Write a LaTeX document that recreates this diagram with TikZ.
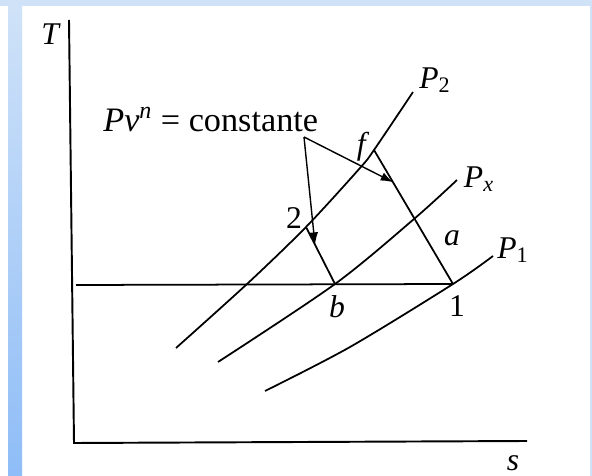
\documentclass[tikz,border=0pt]{standalone}
\usepackage{fontspec}
\setmainfont{Liberation Serif}
\usetikzlibrary{arrows.meta,calc}
\definecolor{bandblue}{HTML}{CFE2F8}
\definecolor{stripblue}{HTML}{8FBDF7}
\begin{document}
\begin{tikzpicture}[x=0.02cm, y=-0.02cm,
    axisline/.style={black, line width=1.1pt},
    isoline/.style={black, line width=1pt, smooth},
    procline/.style={black, line width=1pt},
    pointer/.style={black, line width=0.8pt, -{Latex[length=7pt, width=5pt]}},
    lbl/.style={font=\fontsize{18}{20}\selectfont, inner sep=0pt}
]
    % Frame: light blue band and left strip
    \useasboundingbox (0,0) rectangle (592,476);
    \fill[white] (0,0) rectangle (592,476);
    \fill[bandblue] (0,0) rectangle (592,6);
    \fill[bandblue] (590,0) rectangle (592,476);
    \shade[top color=bandblue, bottom color=stripblue] (8,6) rectangle (22,475);
    % Axes
    \coordinate (top) at (69,20);
    \coordinate (origin) at (74,443);
    \coordinate (right) at (527,441);
    \draw[axisline] (top) -- (origin) -- (right);
    \node[lbl] (T) at (51,34) {\textit{T}};
    \node[lbl] (s) at (513,463) {\textit{s}};
    % States
    \coordinate (p2) at (306,227);
    \coordinate (pb) at (335,284);
    \coordinate (pf) at (374,150);
    \coordinate (p1) at (453,284);
    \coordinate (tstart) at (76,285);
    % Isobars
    \draw[isoline] plot coordinates {(176,348) (247,284) (p2) (360,168) (pf) (413,92)};
    \draw[isoline] plot coordinates {(218,362) (pb) (414,219) (457,180)};
    \draw[isoline] plot coordinates {(265,391) (350,347) (p1) (493,256)};
    \node[lbl] (P2) at (435,80) {\textit{P}\textsubscript{2}};
    \node[lbl] (Px) at (479,179) {\textit{P}\textsubscript{\textit{x}}};
    \node[lbl] (P1) at (513,250) {\textit{P}\textsubscript{1}};
    % Constant temperature line
    \draw[procline] (tstart) -- (p1);
    % Polytropic processes
    \draw[procline] (p2) -- (pb);
    \draw[procline] (pf) -- (p1);
    \node[lbl] (l2) at (294,218) {2};
    \node[lbl] (lb) at (337,307) {\textit{b}};
    \node[lbl] (lf) at (363,147) {\textit{f}};
    \node[lbl] (la) at (452,238) {\textit{a}};
    \node[lbl] (l1) at (457,306) {1};
    % Label with pointers
    \node[lbl, font=\fontsize{19.5}{22}\selectfont, anchor=base west] (law) at (103,132) {\textit{P}\textit{v}\textsuperscript{\textit{n}} = constante};
    \coordinate (src) at (304,137);
    \draw[pointer] (src) -- ($(p2)!0.31!(pb)$);
    \draw[pointer] (src) -- ($(pf)!0.24!(p1)$);
\end{tikzpicture}
\end{document}
